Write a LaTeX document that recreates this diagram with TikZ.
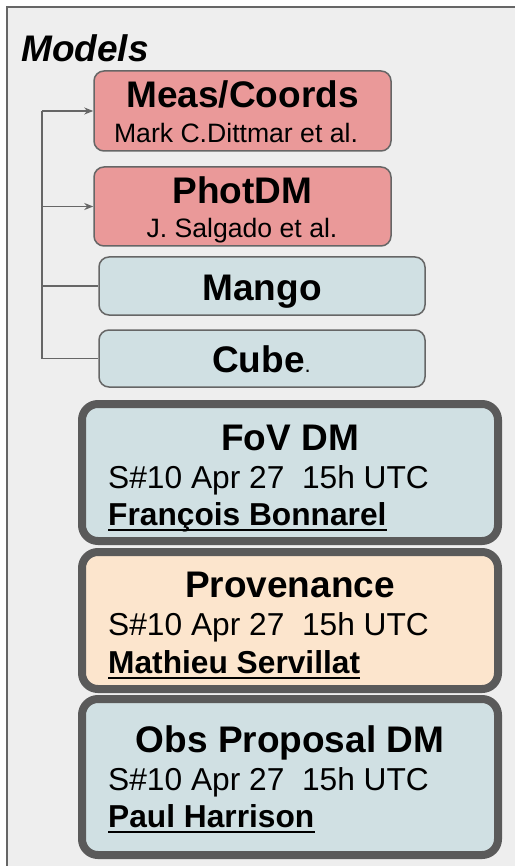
\documentclass[tikz,border=0pt]{standalone}
\usepackage{fontspec}
\setmainfont{Liberation Sans}
\usepackage{tikz}
\usetikzlibrary{positioning,arrows.meta}

\definecolor{panelgrey}{HTML}{EEEEEE}
\definecolor{edgegrey}{HTML}{666666}
\definecolor{framegrey}{HTML}{5A5A5A}
\definecolor{rosefill}{HTML}{EA9999}
\definecolor{icefill}{HTML}{D0E0E3}
\definecolor{peachfill}{HTML}{FCE5CD}

\newcommand{\bigtitle}{\fontsize{37}{41}\selectfont\bfseries}
\newcommand{\authline}{\fontsize{26.6}{30}\selectfont}
\newcommand{\slotline}{\fontsize{31.7}{36}\selectfont}

\tikzset{
  modelbox/.style={draw=edgegrey, line width=1.5pt, rounded corners=10pt, inner sep=0pt},
  slotbox/.style={draw=framegrey, line width=8pt, rounded corners=16pt, inner sep=0pt, minimum width=416pt},
  txt/.style={inner sep=0pt},
  link/.style={edgegrey, line width=1.6pt},
  uline/.style={line width=2.8pt}
}

\begin{document}
\begin{tikzpicture}[x=1pt,y=-1pt]
\useasboundingbox (0,0) rectangle (515,866);
\fill[panelgrey] (7,7) rectangle (515,866);
\draw[edgegrey, line width=1.5pt] (7,866) -- (7,7) -- (515,7);

\node[txt, anchor=base west] (models) at (21,62) {\fontsize{37}{41}\selectfont\bfseries\itshape Models};

% model boxes
\node[modelbox, fill=rosefill, minimum width=297pt, minimum height=80pt] (meas) at (242.5,111) {};
\node[modelbox, fill=rosefill, minimum width=297pt, minimum height=79pt] (phot) at (242.5,206.5) {};
\node[modelbox, fill=icefill, minimum width=326pt, minimum height=58pt] (mango) at (262,286) {};
\node[modelbox, fill=icefill, minimum width=326pt, minimum height=57pt] (cube) at (262,358.5) {};

\node[txt, anchor=base] (measT) at (242.5,108) {\bigtitle Meas/Coords};
\node[txt, anchor=base] (measA) at (236,143) {\authline Mark C.Dittmar et al.};
\node[txt, anchor=base] (photT) at (242.5,204) {\bigtitle PhotDM};
\node[txt, anchor=base] (photA) at (242,238) {\authline J. Salgado et al.};
\node[txt, anchor=base] (mangoT) at (262,300) {\bigtitle Mango};
\node[txt, anchor=base] (cubeT) at (261.5,372) {\bigtitle Cube{\mdseries\fontsize{22}{26}\selectfont .}};

% bracket
\coordinate (rail) at (42,111);
\draw[link] (meas.west -| rail) -- (cube.west -| rail);
\draw[link, -{Stealth[length=9pt,width=7pt]}] (meas.west -| rail) -- (meas.west);
\draw[link, -{Stealth[length=9pt,width=7pt]}] (phot.west -| rail) -- (phot.west);
\draw[link] (mango.west -| rail) -- (mango.west);
\draw[link] (cube.west -| rail) -- (cube.west);

% session slots
\node[slotbox, fill=icefill, minimum height=137pt] (fov) at (290,472.5) {};
\node[slotbox, fill=peachfill, minimum height=137pt] (prov) at (290,620.5) {};
\node[slotbox, fill=icefill, minimum height=156pt] (obs) at (290,777) {};

\node[txt, anchor=base] (fovT) at (290,450) {\bigtitle FoV DM};
\node[txt, anchor=base west] (fovS) at (108,488) {\slotline S\#10 Apr 27\ \ 15h UTC};
\node[txt, anchor=base west] (fovN) at (108,525) {\slotline\bfseries François Bonnarel};
\draw[uline] ([yshift=-5pt]fovN.base west) -- ([yshift=-5pt]fovN.base east);

\node[txt, anchor=base] (provT) at (290,597) {\bigtitle Provenance};
\node[txt, anchor=base west] (provS) at (108,635) {\slotline S\#10 Apr 27\ \ 15h UTC};
\node[txt, anchor=base west] (provN) at (108,673) {\slotline\bfseries Mathieu Servillat};
\draw[uline] ([yshift=-5pt]provN.base west) -- ([yshift=-5pt]provN.base east);

\node[txt, anchor=base] (obsT) at (290,752) {\bigtitle Obs Proposal DM};
\node[txt, anchor=base west] (obsS) at (108,790) {\slotline S\#10 Apr 27\ \ 15h UTC};
\node[txt, anchor=base west] (obsN) at (108,827) {\slotline\bfseries Paul Harrison};
\draw[uline] ([yshift=-5pt]obsN.base west) -- ([yshift=-5pt]obsN.base east);
\end{tikzpicture}
\end{document}
